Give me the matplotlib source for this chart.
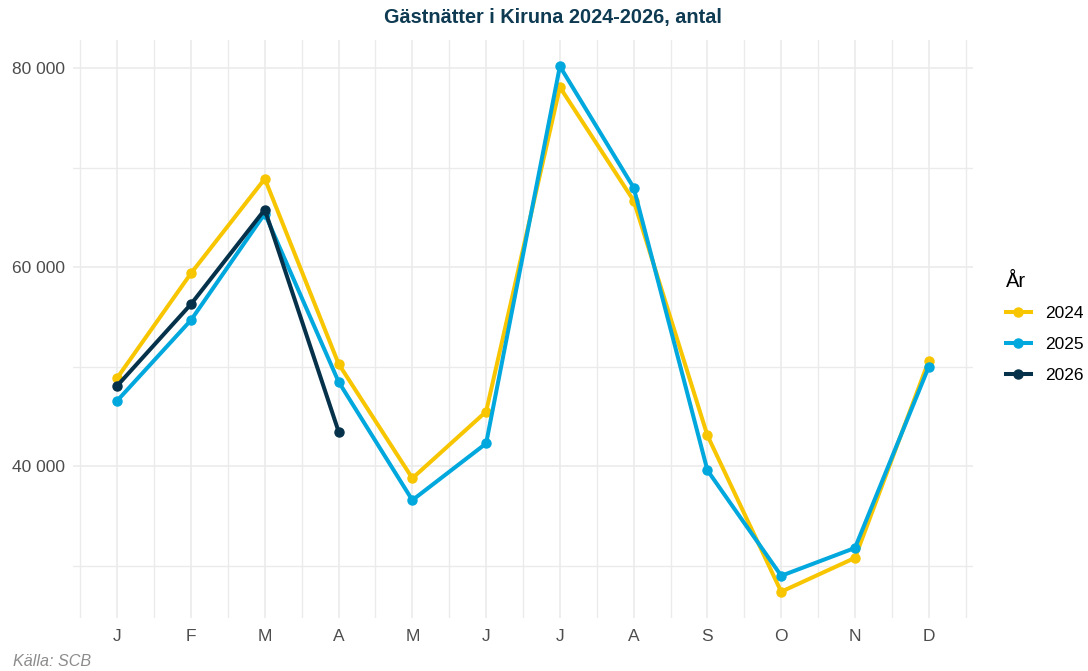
import matplotlib.pyplot as plt
from matplotlib.lines import Line2D
from matplotlib.ticker import FixedLocator, FuncFormatter
import numpy as np

plt.rcParams['font.family'] = ['Liberation Sans', 'DejaVu Sans']

# Data (gästnätter per månad)
months = ['J', 'F', 'M', 'A', 'M', 'J', 'J', 'A', 'S', 'O', 'N', 'D']
v2024 = [48900, 59400, 68900, 50300, 38800, 45500, 78100, 66700, 43100, 27400, 30800, 50600]
v2025 = [46600, 54700, 65400, 48500, 36600, 42300, 80200, 68000, 39600, 29000, 31800, 50000]
v2026 = [48100, 56300, 65800, 43500]

series = [('2024', v2024, '#F7C600'),
          ('2025', v2025, '#00A8DE'),
          ('2026', v2026, '#05324A')]

fig = plt.figure(figsize=(10.88, 6.71), dpi=100)
ax = fig.add_axes([73 / 1088, 53 / 671, 900 / 1088, 578 / 671])

for name, vals, col in series:
    x = np.arange(1, len(vals) + 1)
    ax.plot(x, vals, color=col, lw=2.9, marker='o', ms=6.5, zorder=3,
            solid_capstyle='round', solid_joinstyle='round')

ymin = min(min(v2024), min(v2025))
ymax = max(max(v2024), max(v2025))
pad = (ymax - ymin) * 0.05
ax.set_ylim(ymin - pad, ymax + pad)
ax.set_xlim(0.4, 12.6)

ax.yaxis.set_major_locator(FixedLocator([40000, 60000, 80000]))
ax.yaxis.set_minor_locator(FixedLocator([30000, 50000, 70000]))
ax.yaxis.set_major_formatter(FuncFormatter(lambda v, p: f'{int(v):,}'.replace(',', ' ')))
ax.xaxis.set_major_locator(FixedLocator(range(1, 13)))
ax.xaxis.set_minor_locator(FixedLocator(np.arange(0.5, 13, 1)))
ax.set_xticklabels(months)

ax.grid(which='major', color='#EBEBEB', lw=1.2)
ax.grid(which='minor', color='#EBEBEB', lw=1.0)
ax.set_axisbelow(True)
for s in ax.spines.values():
    s.set_visible(False)
ax.tick_params(which='both', length=0)
ax.tick_params(axis='x', labelsize=12.5, labelcolor='#4D4D4D', pad=8)
ax.tick_params(axis='y', labelsize=12.5, labelcolor='#4D4D4D', pad=6)

fig.text(553 / 1088, 1 - 17 / 671, 'Gästnätter i Kiruna 2024-2026, antal',
         ha='center', va='center', fontsize=14.3, fontweight='bold', color='#0E3A52')
fig.text(13 / 1088, 1 - 662 / 671, 'Källa: SCB', ha='left', va='center',
         fontsize=11.6, fontstyle='italic', color='#8C8C8C')

handles = [Line2D([0], [0], color=c, lw=2.9, marker='o', ms=6.5) for _, _, c in series]
leg = fig.legend(handles, [n for n, _, _ in series], title='År',
                 loc='upper left', bbox_to_anchor=(990 / 1088, 1 - 256 / 671),
                 frameon=False, fontsize=12.5, title_fontsize=14.5,
                 handlelength=1.45, handletextpad=0.85, labelspacing=0.9,
                 alignment='left')

fig.savefig('out.png', dpi=100, facecolor='white')
